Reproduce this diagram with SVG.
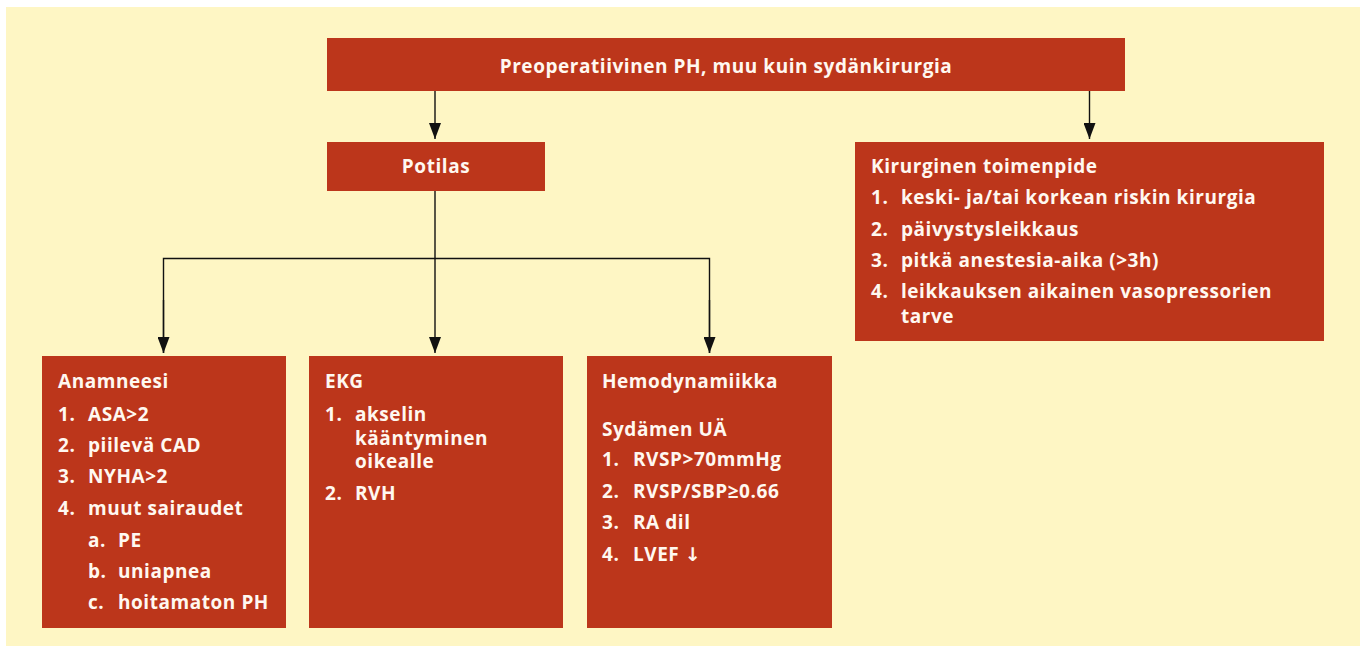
<svg xmlns="http://www.w3.org/2000/svg" width="1363" height="646" viewBox="0 0 1363 646">
<defs>
<marker id="arr" viewBox="0 0 16 12" refX="16" refY="6" markerWidth="16" markerHeight="12" markerUnits="userSpaceOnUse" orient="auto">
<path d="M0,0 L16,6 L0,12 z" fill="#111"/>
</marker>
<style>
.box{fill:#BC361B}
.t{font-family:"Open Sans","Noto Sans","DejaVu Sans",sans-serif;font-weight:700;font-size:19px;letter-spacing:0.55px;fill:#FFF8F0}
.c{text-anchor:middle}
.ln{fill:none;stroke:#111;stroke-width:1.4}
</style>
</defs>
<rect x="0" y="0" width="1363" height="646" fill="#FFFFFF"/>
<rect x="6" y="7" width="1354" height="639" fill="#FEF6C4"/>

<g id="connectors">
<line class="ln" x1="435" y1="91" x2="435" y2="139" marker-end="url(#arr)"/>
<line class="ln" x1="1089.5" y1="91" x2="1089.5" y2="139" marker-end="url(#arr)"/>
<line class="ln" x1="435" y1="191" x2="435" y2="353" marker-end="url(#arr)"/>
<polyline class="ln" points="163.5,353 163.5,258.5 709.5,258.5 709.5,353"/>
<line class="ln" x1="163.5" y1="300" x2="163.5" y2="353" marker-end="url(#arr)"/>
<line class="ln" x1="709.5" y1="300" x2="709.5" y2="353" marker-end="url(#arr)"/>
</g>

<g id="preop">
<rect class="box" x="327" y="38" width="798" height="53"/>
<text class="t c" x="726" y="73">Preoperatiivinen PH, muu kuin sydänkirurgia</text>
</g>

<g id="potilas">
<rect class="box" x="327" y="142" width="218" height="49"/>
<text class="t c" x="436" y="173">Potilas</text>
</g>

<g id="kirurginen">
<rect class="box" x="855" y="142" width="469" height="199"/>
<text class="t" x="871" y="173">Kirurginen toimenpide</text>
<text class="t" x="871" y="204">1.</text><text class="t" x="901" y="204">keski- ja/tai korkean riskin kirurgia</text>
<text class="t" x="871" y="236">2.</text><text class="t" x="901" y="236">päivystysleikkaus</text>
<text class="t" x="871" y="267">3.</text><text class="t" x="901" y="267">pitkä anestesia-aika (&gt;3h)</text>
<text class="t" x="871" y="298">4.</text><text class="t" x="901" y="298">leikkauksen aikainen vasopressorien<tspan x="901" dy="25">tarve</tspan></text>
</g>

<g id="anamneesi">
<rect class="box" x="42" y="356" width="244" height="272"/>
<text class="t" x="58" y="388">Anamneesi</text>
<text class="t" x="58" y="421">1.</text><text class="t" x="88" y="421">ASA&gt;2</text>
<text class="t" x="58" y="452">2.</text><text class="t" x="88" y="452">piilevä CAD</text>
<text class="t" x="58" y="483">3.</text><text class="t" x="88" y="483">NYHA&gt;2</text>
<text class="t" x="58" y="515">4.</text><text class="t" x="88" y="515">muut sairaudet</text>
<text class="t" x="88" y="547">a.</text><text class="t" x="118" y="547">PE</text>
<text class="t" x="88" y="578">b.</text><text class="t" x="118" y="578">uniapnea</text>
<text class="t" x="88" y="609">c.</text><text class="t" x="118" y="609">hoitamaton PH</text>
</g>

<g id="ekg">
<rect class="box" x="309" y="356" width="254" height="272"/>
<text class="t" x="325" y="388">EKG</text>
<text class="t" x="325" y="421">1.</text><text class="t" x="355" y="421">akselin<tspan x="355" dy="24">kääntyminen</tspan><tspan x="355" dy="23">oikealle</tspan></text>
<text class="t" x="325" y="500">2.</text><text class="t" x="355" y="500">RVH</text>
</g>

<g id="hemodynamiikka">
<rect class="box" x="587" y="356" width="245" height="272"/>
<text class="t" x="602" y="388">Hemodynamiikka</text>
<text class="t" x="602" y="436">Sydämen UÄ</text>
<text class="t" x="602" y="466">1.</text><text class="t" x="633" y="466">RVSP&gt;70mmHg</text>
<text class="t" x="602" y="498">2.</text><text class="t" x="633" y="498">RVSP/SBP≥0.66</text>
<text class="t" x="602" y="529">3.</text><text class="t" x="633" y="529">RA dil</text>
<text class="t" x="602" y="561">4.</text><text class="t" x="633" y="561">LVEF ↓</text>
</g>
</svg>
